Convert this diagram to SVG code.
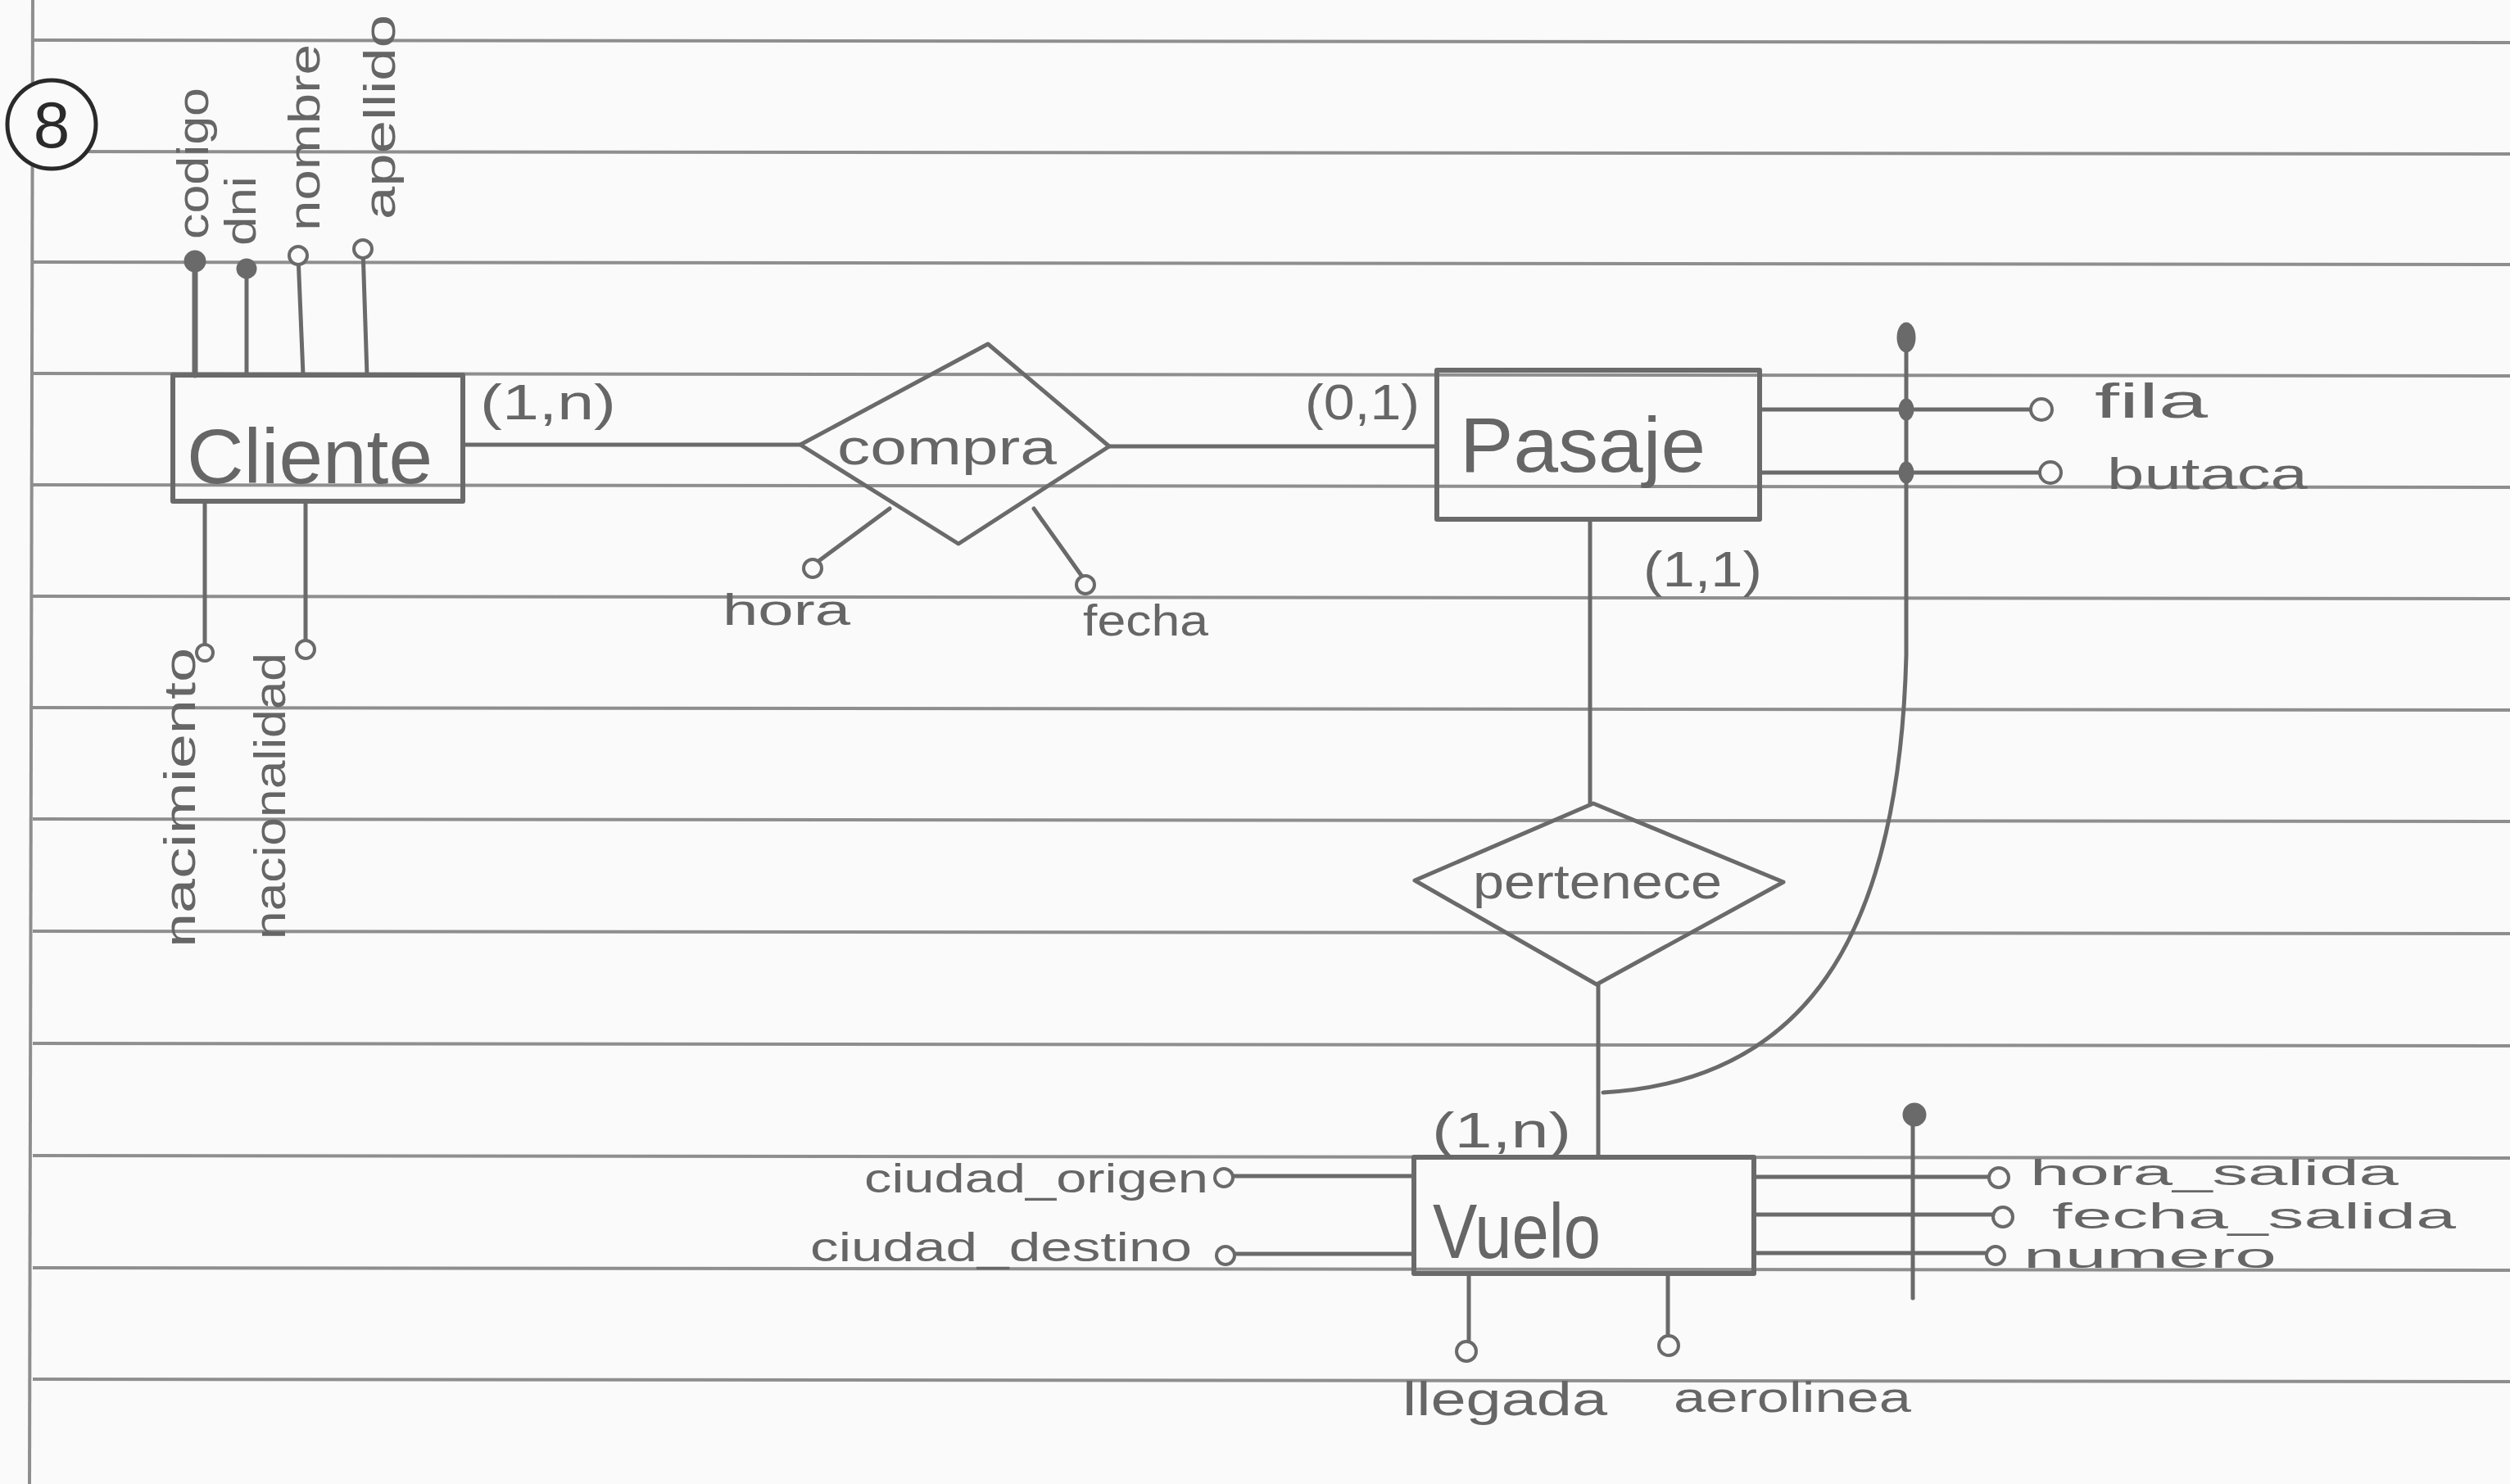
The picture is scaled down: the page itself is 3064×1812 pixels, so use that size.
<svg xmlns="http://www.w3.org/2000/svg" width="3064" height="1812" viewBox="0 0 3064 1812">
<defs>
<style>
.rule{stroke:#8e8e8e;stroke-width:4;fill:none}
.pen{stroke:#6a6a6a;stroke-width:5;fill:none;stroke-linecap:round;stroke-linejoin:round}
.ent{stroke:#6a6a6a;stroke-width:6;fill:none;stroke-linejoin:round}
.att{fill:#fafafa;stroke:#6a6a6a;stroke-width:4}
.key{fill:#6a6a6a;stroke:#6a6a6a;stroke-width:3}
text{font-family:"Liberation Sans",Arial,sans-serif;fill:#666666}
.big{font-size:94px}
.lbl{font-size:54px}
.sm{font-size:44px}
.card{font-size:62px}
</style>
</defs>
<rect width="3064" height="1812" fill="#fafafa"/>
<g id="paper">
<line class="rule" x1="40" y1="0" x2="36" y2="1812"/>
<line class="rule" x1="40" y1="49" x2="3064" y2="52"/>
<line class="rule" x1="40" y1="185" x2="3064" y2="188"/>
<line class="rule" x1="40" y1="320" x2="3064" y2="323"/>
<line class="rule" x1="40" y1="456" x2="3064" y2="459"/>
<line class="rule" x1="40" y1="592" x2="3064" y2="595"/>
<line class="rule" x1="40" y1="728" x2="3064" y2="731"/>
<line class="rule" x1="40" y1="864" x2="3064" y2="867"/>
<line class="rule" x1="40" y1="1000" x2="3064" y2="1003"/>
<line class="rule" x1="40" y1="1137" x2="3064" y2="1140"/>
<line class="rule" x1="40" y1="1274" x2="3064" y2="1277"/>
<line class="rule" x1="40" y1="1411" x2="3064" y2="1414"/>
<line class="rule" x1="40" y1="1548" x2="3064" y2="1551"/>
<line class="rule" x1="40" y1="1684" x2="3064" y2="1687"/>
<g id="number">
<circle cx="63" cy="152" r="54" fill="#fafafa" stroke="#2a2a2a" stroke-width="5"/>
<text x="63" y="180" font-size="80" text-anchor="middle" style="fill:#2a2a2a">8</text>
</g>
</g>
<g id="connectors">
<path class="pen" d="M565 543 H977"/>
<path class="pen" d="M1354 545 H1754"/>
<path class="pen" d="M1941 634 V981"/>
<path class="pen" d="M1951 1202 V1413"/>
<path class="pen" d="M2327 412 V800 C2318 1150 2200 1320 1957 1334"/>
<path class="pen" d="M2335 1361 V1585"/>
<path class="pen" style="stroke-width:7" d="M238 458 V319"/>
<path class="pen" d="M301 458 V328"/>
<path class="pen" d="M370 458 L364 312"/>
<path class="pen" d="M448 458 L443 304"/>
<path class="pen" d="M250 612 V789"/>
<path class="pen" d="M373 612 V784"/>
<path class="pen" d="M1086 621 L998 686"/>
<path class="pen" d="M1262 621 L1321 704"/>
<path class="pen" d="M2148 500 H2479"/>
<path class="pen" d="M2148 577 H2490"/>
<path class="pen" d="M2141 1437 H2428"/>
<path class="pen" d="M2141 1483 H2433"/>
<path class="pen" d="M2141 1530 H2425"/>
<path class="pen" d="M1726 1436 H1505"/>
<path class="pen" d="M1726 1531 H1507"/>
<path class="pen" d="M1793 1555 V1638"/>
<path class="pen" d="M2036 1555 V1631"/>
</g>
<g id="cliente">
<rect class="ent" x="211" y="458" width="354" height="154"/>
<text class="big" x="228" y="590" textLength="300" lengthAdjust="spacingAndGlyphs">Cliente</text>
</g>
<g id="compra">
<polygon class="ent" style="stroke-width:5" points="1206,420 1354,545 1170,664 977,543"/>
<text x="1022" y="567" font-size="62" textLength="268" lengthAdjust="spacingAndGlyphs">compra</text>
</g>
<g id="pasaje">
<rect class="ent" x="1754" y="452" width="394" height="182"/>
<text class="big" x="1782" y="576" textLength="300" lengthAdjust="spacingAndGlyphs">Pasaje</text>
</g>
<g id="pertenece">
<polygon class="ent" style="stroke-width:5" points="1945,981 2177,1077 1949,1202 1727,1075"/>
<text x="1798" y="1097" font-size="60" textLength="304" lengthAdjust="spacingAndGlyphs">pertenece</text>
</g>
<g id="vuelo">
<rect class="ent" x="1726" y="1413" width="415" height="142"/>
<text class="big" x="1749" y="1536" textLength="205" lengthAdjust="spacingAndGlyphs">Vuelo</text>
</g>
<g id="cardinalities">
<text class="card" x="586" y="512" textLength="166" lengthAdjust="spacingAndGlyphs">(1,n)</text>
<text class="card" x="1593" y="512" textLength="140" lengthAdjust="spacingAndGlyphs">(0,1)</text>
<text class="card" x="2006" y="716" textLength="145" lengthAdjust="spacingAndGlyphs">(1,1)</text>
<text class="card" x="1748" y="1401" textLength="170" lengthAdjust="spacingAndGlyphs">(1,n)</text>
</g>
<g id="attr-codigo">
<circle class="key" cx="238" cy="319" r="12"/>
<text class="lbl" transform="translate(254,292) rotate(-90)" textLength="185" lengthAdjust="spacingAndGlyphs">codigo</text>
</g>
<g id="attr-dni">
<circle class="key" cx="301" cy="328" r="11"/>
<text class="lbl" transform="translate(312,300) rotate(-90)" textLength="85" lengthAdjust="spacingAndGlyphs">dni</text>
</g>
<g id="attr-nombre">
<circle class="att" cx="364" cy="312" r="11"/>
<text class="lbl" transform="translate(390,282) rotate(-90)" textLength="228" lengthAdjust="spacingAndGlyphs">nombre</text>
</g>
<g id="attr-apellido">
<circle class="att" cx="443" cy="304" r="11"/>
<text class="lbl" transform="translate(482,268) rotate(-90)" textLength="250" lengthAdjust="spacingAndGlyphs">apellido</text>
</g>
<g id="attr-nacimiento">
<circle class="att" cx="250" cy="797" r="10"/>
<text class="lbl" transform="translate(238,1157) rotate(-90)" textLength="366" lengthAdjust="spacingAndGlyphs">nacimiento</text>
</g>
<g id="attr-nacionalidad">
<circle class="att" cx="373" cy="793" r="11"/>
<text class="lbl" transform="translate(348,1147) rotate(-90)" textLength="350" lengthAdjust="spacingAndGlyphs">nacionalidad</text>
</g>
<g id="attr-hora">
<circle class="att" cx="992" cy="694" r="11"/>
<text class="lbl" x="882" y="763" textLength="156" lengthAdjust="spacingAndGlyphs">hora</text>
</g>
<g id="attr-fecha">
<circle class="att" cx="1325" cy="714" r="11"/>
<text class="lbl" x="1322" y="776" textLength="153" lengthAdjust="spacingAndGlyphs">fecha</text>
</g>
<g id="id-pasaje">
<ellipse class="key" cx="2327" cy="412" rx="10" ry="17"/>
<ellipse class="key" cx="2327" cy="500" rx="8" ry="12"/>
<ellipse class="key" cx="2327" cy="577" rx="8" ry="12"/>
</g>
<g id="attr-fila">
<circle class="att" cx="2492" cy="500" r="13"/>
<text x="2557" y="510" font-size="60" textLength="138" lengthAdjust="spacingAndGlyphs">fila</text>
</g>
<g id="attr-butaca">
<circle class="att" cx="2503" cy="577" r="13"/>
<text class="lbl" x="2572" y="597" textLength="245" lengthAdjust="spacingAndGlyphs">butaca</text>
</g>
<g id="id-vuelo">
<circle class="key" cx="2337" cy="1361" r="13"/>
</g>
<g id="attr-hora_salida">
<circle class="att" cx="2440" cy="1438" r="12"/>
<text class="sm" x="2478" y="1447" textLength="450" lengthAdjust="spacingAndGlyphs">hora_salida</text>
</g>
<g id="attr-fecha_salida">
<circle class="att" cx="2445" cy="1486" r="12"/>
<text class="sm" x="2505" y="1500" textLength="493" lengthAdjust="spacingAndGlyphs">fecha_salida</text>
</g>
<g id="attr-numero">
<circle class="att" cx="2436" cy="1533" r="11"/>
<text x="2470" y="1548" font-size="42" textLength="309" lengthAdjust="spacingAndGlyphs">numero</text>
</g>
<g id="attr-ciudad_origen">
<circle class="att" cx="1494" cy="1438" r="11"/>
<text x="1055" y="1456" font-size="50" textLength="420" lengthAdjust="spacingAndGlyphs">ciudad_origen</text>
</g>
<g id="attr-ciudad_destino">
<circle class="att" cx="1496" cy="1533" r="11"/>
<text x="989" y="1540" font-size="50" textLength="466" lengthAdjust="spacingAndGlyphs">ciudad_destino</text>
</g>
<g id="attr-llegada">
<circle class="att" cx="1790" cy="1650" r="12"/>
<text x="1712" y="1728" font-size="58" textLength="250" lengthAdjust="spacingAndGlyphs">llegada</text>
</g>
<g id="attr-aerolinea">
<circle class="att" cx="2037" cy="1643" r="12"/>
<text x="2043" y="1724" font-size="52" textLength="290" lengthAdjust="spacingAndGlyphs">aerolinea</text>
</g>
</svg>
